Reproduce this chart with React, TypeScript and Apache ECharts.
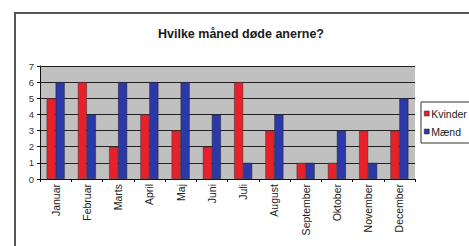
import React, { useEffect, useRef } from "react";
import * as echarts from "echarts";

const categories = ["Januar", "Februar", "Marts", "April", "Maj", "Juni", "Juli", "August", "September", "Oktober", "November", "December"];
const kvinder = [5, 6, 2, 4, 3, 2, 6, 3, 1, 1, 3, 3];
const maend = [6, 4, 6, 6, 6, 4, 1, 4, 1, 3, 1, 5];
const title = "Hvilke måned døde anerne?";

export default function App() {
  const ref = useRef<HTMLDivElement>(null);
  useEffect(() => {
    if (!ref.current) return;
    const chart = echarts.init(ref.current, null, { renderer: "svg" });
    const font = "Liberation Sans, Arial, sans-serif";
    chart.setOption({
      animation: false,
      backgroundColor: "#ffffff",
      textStyle: { fontFamily: font },
      title: {
        text: title,
        left: 236,
        top: 22,
        textAlign: "center",
        textStyle: { fontSize: 12.5, fontWeight: "bold", color: "#1a1a1a", fontFamily: font },
      },
      graphic: [
        {
          type: "rect",
          shape: { x: 15, y: 13, width: 500, height: 260 },
          style: { fill: "none", stroke: "#555", lineWidth: 2 },
          z: 100,
        },
      ],
      legend: {
        orient: "vertical",
        left: 421,
        top: 102,
        itemWidth: 5,
        itemHeight: 5,
        itemGap: 7,
        padding: [6, 30, 6, 3],
        borderColor: "#333",
        borderWidth: 1,
        backgroundColor: "#fff",
        icon: "rect",
        textStyle: { fontSize: 10.5, color: "#222", fontFamily: font, padding: [0, 0, 0, -3] },
        data: [
          { name: "Kvinder", itemStyle: { borderColor: "#222", borderWidth: 0.5 } },
          { name: "Mænd", itemStyle: { borderColor: "#222", borderWidth: 0.5 } },
        ],
      },
      grid: {
        left: 40,
        right: 54,
        top: 66,
        bottom: 67,
        show: true,
        backgroundColor: "#c0c0c0",
        borderWidth: 0,
        containLabel: false,
      },
      xAxis: {
        type: "category",
        data: categories,
        axisLine: { lineStyle: { color: "#111", width: 1 } },
        axisTick: { show: true, length: 3, lineStyle: { color: "#111" } },
        axisLabel: { rotate: 90, fontSize: 10.5, color: "#222", margin: 5, interval: 0 },
      },
      yAxis: {
        type: "value",
        min: 0,
        max: 7,
        interval: 1,
        axisLine: { show: true, lineStyle: { color: "#111", width: 1 } },
        axisTick: { show: true, length: 3, lineStyle: { color: "#111" } },
        axisLabel: { fontSize: 9.5, color: "#333", margin: 6 },
        splitLine: { show: true, lineStyle: { color: "#222", width: 1 } },
      },
      series: [
        {
          name: "Kvinder",
          type: "bar",
          data: kvinder,
          barWidth: 9,
          barGap: "0%",
          itemStyle: { color: "#e8202a", borderColor: "#333", borderWidth: 0.5 },
        },
        {
          name: "Mænd",
          type: "bar",
          data: maend,
          barWidth: 9,
          barGap: "0%",
          itemStyle: { color: "#2a38a8", borderColor: "#222", borderWidth: 0.5 },
        },
      ],
    });
    return () => chart.dispose();
  }, []);
  return (
    <div
      ref={ref}
      style={{ position: "fixed", left: 0, top: 0, width: 469, height: 246 }}
    />
  );
}
